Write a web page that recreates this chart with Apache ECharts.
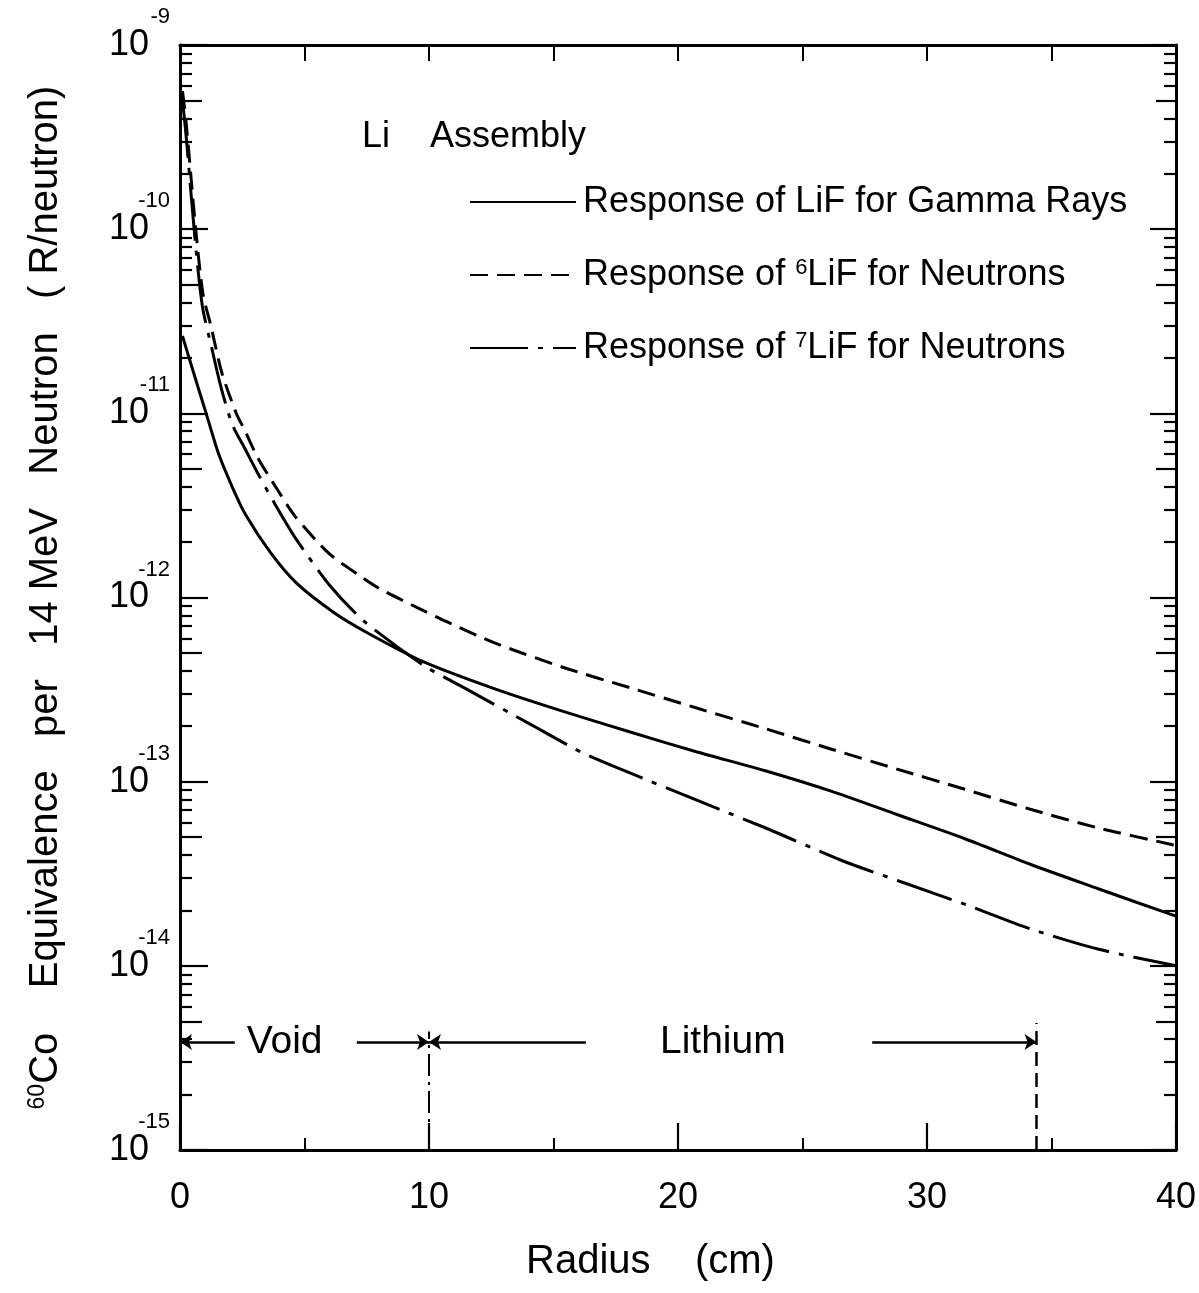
<!DOCTYPE html>
<html><head><meta charset="utf-8">
<script src="https://cdn.jsdelivr.net/npm/echarts@6/dist/echarts.min.js"></script>
<style>html,body{margin:0;padding:0;background:#fff}#c{width:1199px;height:1293px}</style>
</head><body><div id="c"></div>
<script>
// ---- data ----
const seriesNames = ['Response of LiF for Gamma Rays', 'Response of 6LiF for Neutrons', 'Response of 7LiF for Neutrons'];

const radiusGamma   = [0.1, 0.5, 1.05, 1.55, 2.1, 2.63, 3.65, 4.67, 6.16, 7.5, 9.79, 12.73, 15.42, 18.08, 20.77, 23.47, 26.12, 28.82, 31.52, 34.17, 36.85, 39.57, 40];
const gammaResponse = [2.63e-11, 1.74e-11, 1.0e-11, 6.03e-12, 3.98e-12, 2.82e-12, 1.74e-12, 1.2e-12, 8.32e-13, 6.46e-13, 4.47e-13, 3.16e-13, 2.4e-13, 1.86e-13, 1.45e-13, 1.15e-13, 8.91e-14, 6.61e-14, 4.9e-14, 3.55e-14, 2.63e-14, 1.95e-14, 1.86e-14];

const radiusLi6   = [0.1, 0.24, 0.61, 0.92, 1.25, 1.68, 2.26, 2.59, 3.12, 3.94, 4.63, 5.97, 7.19, 8.0, 9.61, 10.69, 12.71, 15.4, 18.06, 20.75, 23.45, 26.1, 28.8, 31.49, 34.15, 36.84, 39.78, 40];
const li6Response = [5.62e-10, 3.89e-10, 1.07e-10, 4.47e-11, 2.95e-11, 1.66e-11, 1.0e-11, 8.13e-12, 5.75e-12, 3.8e-12, 2.75e-12, 1.74e-12, 1.32e-12, 1.12e-12, 8.71e-13, 7.41e-13, 5.62e-13, 4.17e-13, 3.24e-13, 2.51e-13, 1.95e-13, 1.51e-13, 1.17e-13, 9.12e-14, 7.08e-14, 5.62e-14, 4.57e-14, 4.47e-14];

const radiusLi7   = [0.1, 0.25, 0.6, 0.9, 1.25, 1.65, 2.1, 2.6, 3.1, 3.8, 4.65, 6.0, 7.4, 9.8, 11.4, 14.1, 16.1, 17.7, 21.1, 23.5, 26.6, 28.9, 31.6, 34.2, 36.9, 40];
const li7Response = [5.01e-10, 3.16e-10, 8.9e-11, 3.8e-11, 2.34e-11, 1.38e-11, 8.7e-12, 6.46e-12, 4.79e-12, 3.24e-12, 2.09e-12, 1.17e-12, 7.41e-13, 4.27e-13, 3.24e-13, 2.04e-13, 1.45e-13, 1.17e-13, 7.59e-14, 5.62e-14, 3.72e-14, 2.88e-14, 2.14e-14, 1.58e-14, 1.23e-14, 1.0e-14];

const xTickLabels = [0, 10, 20, 30, 40];
const yDecadeExponents = [-15, -14, -13, -12, -11, -10, -9];

const regionLabels = ['Void', 'Lithium'];
const regionLabelX = [4.2, 21.8];
const regionLevel = 3.86e-15;
const voidEdge = 10;
const lithiumEdge = 34.4;

// ---- build ----
const FONT = '"Liberation Sans", Arial, sans-serif';
const zip = (a, b) => a.map((v, i) => [v, b[i]]);
const decadeVals = yDecadeExponents.map(e => Math.pow(10, e));
const fiveVals = [], otherVals = [];
yDecadeExponents.slice(0, -1).forEach(e => {
  for (let k = 2; k <= 9; k++) {
    const v = Number((k * Math.pow(10, e)).toPrecision(3));
    (k === 5 ? fiveVals : otherVals).push(v);
  }
});

const yBase = { type: 'log', logBase: 10, min: 1e-15, max: 1e-9, splitLine: { show: false } };
function yLayer(pos, vals, len, withLine, label) {
  return Object.assign({}, yBase, {
    position: pos,
    axisLine: { show: withLine, onZero: false, lineStyle: { color: '#000', width: 3 } },
    axisTick: vals ? { show: true, inside: true, length: len, customValues: vals, lineStyle: { color: '#000', width: 2.2 } } : { show: false },
    axisLabel: label || { show: false }
  });
}

const yAxes = [
  Object.assign(yLayer('left', decadeVals, 28, true, {
    show: true, customValues: decadeVals, margin: 31, verticalAlign: 'middle', padding: [8, 0, 0, 0],
    formatter: () => '10', fontFamily: FONT, fontSize: 36, color: '#000'
  }), {
    name: '{s|60}{a|Co    Equivalence   per   14 MeV   Neutron   ( R/neutron)}',
    nameLocation: 'middle', nameRotate: 90, nameGap: 114,
    nameTextStyle: {
      color: '#000',
      rich: {
        s: { fontFamily: FONT, fontSize: 23, lineHeight: 23, verticalAlign: 'top', color: '#000' },
        a: { fontFamily: FONT, fontSize: 40, lineHeight: 40, padding: [10, 0, 0, 0], verticalAlign: 'bottom', color: '#000' }
      }
    }
  }),
  yLayer('left', null, 0, false, {
    show: true, customValues: decadeVals, margin: 10, verticalAlign: 'bottom', padding: [0, 0, 17, 0],
    formatter: v => String(Math.round(Math.log10(v))), fontFamily: FONT, fontSize: 22, color: '#000'
  }),
  yLayer('left', fiveVals, 22, false, null),
  yLayer('left', otherVals, 12, false, null),
  yLayer('right', decadeVals, 26, true, null),
  yLayer('right', fiveVals, 20, false, null),
  yLayer('right', otherVals, 12, false, null)
];

const curveStyle = (type) => ({ color: '#000', width: 3, type: type });

const option = {
  backgroundColor: '#fff',
  animation: false,
  grid: { left: 180, right: 21, top: 45, bottom: 143, containLabel: false },
  xAxis: [
    {
      type: 'value', min: 0, max: 40, interval: 10, position: 'bottom',
      axisLine: { show: true, onZero: false, lineStyle: { color: '#000', width: 3 } },
      axisTick: { inside: true, length: 27, lineStyle: { color: '#000', width: 2.2 } },
      minorTick: { show: true, splitNumber: 2, length: 12, lineStyle: { color: '#000', width: 2 } },
      axisLabel: { margin: 30, fontFamily: FONT, fontSize: 36, color: '#000',
        customValues: xTickLabels, formatter: v => String(v) },
      splitLine: { show: false }
    },
    {
      type: 'value', min: 0, max: 40, interval: 5, position: 'top',
      axisLine: { show: true, onZero: false, lineStyle: { color: '#000', width: 3 } },
      axisTick: { inside: true, length: 16, lineStyle: { color: '#000', width: 2 } },
      axisLabel: { show: false },
      splitLine: { show: false }
    }
  ],
  yAxis: yAxes,
  legend: {
    data: seriesNames,
    left: 464, top: 173, orient: 'vertical',
    itemWidth: 106, itemHeight: 14, itemGap: 31,
    selectedMode: false,
    itemStyle: { opacity: 0, borderWidth: 0 },
    formatter: n => '{g|}{a|' + n.replace(/of ([67])LiF/, 'of }{s|$1}{a|LiF') + '}',
    textStyle: {
      color: '#000',
      rich: {
        g: { width: 2 },
        a: { fontFamily: FONT, fontSize: 36, lineHeight: 36, padding: [6, 0, 0, 0], verticalAlign: 'bottom', color: '#000' },
        s: { fontFamily: FONT, fontSize: 22, lineHeight: 22, verticalAlign: 'top', color: '#000' }
      }
    }
  },
  graphic: [
    { type: 'text', left: 362, top: 119, style: { text: 'Li    Assembly', font: '36px ' + FONT, fill: '#000' } },
    { type: 'text', left: 526, top: 1242, style: { text: 'Radius    (cm)', font: '40px ' + FONT, fill: '#000' } }
  ],
  series: [
    { name: seriesNames[0], type: 'line', data: zip(radiusGamma, gammaResponse), symbol: 'none', showSymbol: false,
      smooth: 0.25, lineStyle: curveStyle('solid'), itemStyle: { color: '#000' } },
    { name: seriesNames[1], type: 'line', data: zip(radiusLi6, li6Response), symbol: 'none', showSymbol: false,
      smooth: 0.25, lineStyle: curveStyle([18, 9]), itemStyle: { color: '#000' } },
    { name: seriesNames[2], type: 'line', data: zip(radiusLi7, li7Response), symbol: 'none', showSymbol: false,
      smooth: 0.25, lineStyle: curveStyle([58, 10, 5, 10]), itemStyle: { color: '#000' } },
    {
      name: 'regions', type: 'scatter', symbolSize: 0, silent: true,
      itemStyle: { opacity: 1, color: '#000' },
      data: regionLabels.map((t, i) => ({ value: [regionLabelX[i], regionLevel], name: t })),
      label: { show: true, position: [0, 0], align: 'center', verticalAlign: 'middle', formatter: p => p.name,
        fontFamily: FONT, fontSize: 39, color: '#000', opacity: 1 },
      markLine: {
        silent: true, symbol: 'none', symbolSize: 12, label: { show: false },
        lineStyle: { color: '#000', width: 2.5, type: 'solid', opacity: 1 },
        data: [
          [{ coord: [0, regionLevel], symbol: 'arrow' }, { coord: [2.2, regionLevel], symbol: 'none' }],
          [{ coord: [7.1, regionLevel], symbol: 'none' }, { coord: [voidEdge, regionLevel], symbol: 'arrow' }],
          [{ coord: [voidEdge, regionLevel], symbol: 'arrow' }, { coord: [16.3, regionLevel], symbol: 'none' }],
          [{ coord: [27.8, regionLevel], symbol: 'none' }, { coord: [lithiumEdge, regionLevel], symbol: 'arrow' }],
          [{ coord: [voidEdge, 1e-15], symbol: 'none', lineStyle: { type: [22, 6, 3, 6], width: 2 } }, { coord: [voidEdge, 4.4e-15], symbol: 'none' }],
          [{ coord: [lithiumEdge, 1e-15], symbol: 'none', lineStyle: { type: [14, 7], width: 2.5 } }, { coord: [lithiumEdge, 4.9e-15], symbol: 'none' }]
        ]
      }
    }
  ]
};

const chart = echarts.init(document.getElementById('c'), null, { renderer: 'canvas' });
chart.setOption(option);
</script>
</body></html>
